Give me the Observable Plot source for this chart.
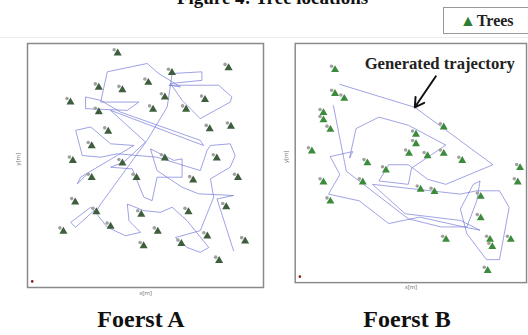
<!DOCTYPE html>
<html><head><meta charset="utf-8">
<script src="https://cdn.jsdelivr.net/npm/d3@7"></script>
<script src="https://cdn.jsdelivr.net/npm/@observablehq/plot@0.6"></script>
<style>
html,body{margin:0;padding:0;background:#fff;}
#page{position:relative;width:528px;height:335px;overflow:hidden;background:#fff;font-family:"Liberation Serif","DejaVu Serif",serif;}
.abs{position:absolute;}
#title{left:0;width:545px;top:-13px;text-align:center;font-weight:bold;font-size:19px;color:#111;}
#legend{left:443px;top:7px;width:100px;height:27px;border:1px solid #999;box-sizing:border-box;font-weight:bold;font-size:16px;line-height:25px;padding-left:16px;color:#222;}
#legend span{color:#2e7d32;font-size:16px;margin-right:1px;}
.cap{top:306px;width:200px;text-align:center;font-weight:bold;font-size:24px;color:#111;}
#sep{left:0;top:37px;width:528px;height:1px;background:#ececec;}
</style></head>
<body><div id="page">
<div id="sep" class="abs"></div>
<div id="title" class="abs">Figure 4: Tree locations</div>
<div id="legend" class="abs"><span>▲</span>Trees</div>
<div id="pA" class="abs" style="left:13px;top:42px;"></div>
<div id="pB" class="abs" style="left:281px;top:42px;"></div>
<div class="abs cap" style="left:41px;">Foerst A</div>
<div class="abs cap" style="left:307px;">Foerst B</div>
</div>
<script>
// Tree positions [x m, y m]
const treesA = [[38,96],[85,90],[61,88],[30,82],[51,84],[40,81],[58,78],[18,76],[75,77],[53,73],[30,72],[67,73],
  [34,64],[77,65],[86,66],[27,58],[58,53],[19,52],[40,51],[80,53],[27,45],[46,45],[70,44],[89,45],[20,35],[29,31],
  [84,33],[48,30],[68,31],[35,25],[15,23],[55,23],[76,21],[92,19],[49,17],[65,18],[81,11]];
const treesB = [[17,89],[17,79],[21,77],[12,71],[12,68],[15,64],[7,55],[64,65],[52,62],[52,58],[49,54],[57,53],
  [64,54],[72,51],[31,50],[39,47],[29,42],[12,42],[54,39],[60,38],[15,34],[80,36],[80,27],[65,18],[84,18],[85,15],
  [93,18],[97,48],[96,42],[83,5]];
// Generated trajectory vertices [x m, y m]
const trajA = [[87.3,15.1],[80.3,36.3],[87.3,37.7],[72.5,38.4],[65.5,41.1],[54.9,47.9],[52.1,56.8],[62.0,52.1],[65.5,52.7],
  [65.5,45.2],[54.9,45.2],[52.8,35.6],[49.3,37.0],[44.4,48.6],[35.2,49.3],[40.8,51.4],[50.0,59.6],[35.2,72.6],[74.6,58.2],
  [73.2,60.3],[39.4,71.9],[31.0,76.7],[24.6,78.1],[24.6,73.3],[42.3,72.6],[47.2,76.0],[31.0,76.0],[33.8,88.4],[50.7,91.8],
  [55.6,87.7],[64.8,82.2],[59.9,82.9],[81.0,82.9],[86.6,78.1],[85.9,76.0],[73.2,69.2],[65.5,76.7],[60.6,83.6],[73.9,84.9],
  [73.9,88.4],[61.3,87.7],[59.2,74.0],[50.7,60.3],[31.0,34.2],[28.9,30.8],[26.8,32.9],[18.3,26.7],[20.4,24.7],[28.2,31.5],
  [33.8,24.7],[41.5,21.2],[47.9,22.6],[43.0,27.4],[42.3,34.2],[49.3,31.5],[56.3,30.8],[61.3,32.9],[67.6,27.4],[76.8,16.4],
  [73.2,14.4],[67.6,16.4],[62.7,20.5],[73.2,23.3],[78.9,37.0],[77.5,44.5],[85.9,49.3],[88.0,54.1],[85.9,58.9],[77.5,58.2],
  [76.1,56.2],[73.2,47.9],[54.9,53.4],[38.0,54.8],[31.0,53.4],[23.2,54.1],[20.4,64.4],[26.8,65.8],[35.2,58.9],[45.1,58.2],
  [22.5,45.2],[21.1,42.5],[25.4,46.6]];
const trajB = [[19.3,82.9],[51.7,73.3],[85.5,49.3],[65.1,41.1],[57.3,43.2],[48.9,49.3],[40.4,49.3],[36.2,42.5],[48.9,41.1],
  [50.3,47.9],[65.1,57.5],[48.9,65.8],[36.2,69.2],[26.3,64.4],[23.5,52.1],[24.9,54.8],[15.1,52.7],[19.3,45.2],[14.4,37.0],
  [27.7,34.2],[40.4,24.7],[53.8,27.4],[72.8,23.3],[79.9,21.9],[71.4,26.0],[47.5,28.8],[33.4,41.1],[71.4,37.0],[78.5,38.4],
  [88.3,38.4],[92.5,31.5],[88.3,9.6],[82.7,9.6],[74.2,20.5],[71.4,30.8],[77.0,41.1],[79.9,42.5],[78.5,34.2],[74.2,23.3],
  [63.0,23.3],[48.9,26.7],[22.1,46.6],[19.3,60.3],[16.5,74.0]];
const origin = [[2,2.5]];
const annotation = {text: "Generated trajectory", x: 62.5, y: 91.5, from: [60.8, 86.3], to: [51.7, 73.3]};

function panel(trees, traj, treeFill, extra) {
  return Plot.plot({
    width: 252, height: 262,
    marginLeft: 14, marginRight: 2, marginTop: 1, marginBottom: 17,
    x: {domain: [0, 100], axis: null},
    y: {domain: [0, 100], axis: null},
    style: {background: "transparent", overflow: "visible"},
    marks: [
      Plot.line(traj, {x: d => d[0], y: d => d[1], stroke: "#6f74d6", strokeOpacity: 0.75, strokeWidth: 0.9}),
      Plot.dot(trees, {x: d => d[0], y: d => d[1], dx: -3, dy: -3.5, r: 1.8, fill: "#a0a0a0", stroke: "none"}),
      Plot.dot(trees, {x: d => d[0], y: d => d[1], dx: 0.5, symbol: "triangle", r: 3, fill: treeFill, stroke: "none"}),
      Plot.dot(origin, {x: d => d[0], y: d => d[1], r: 1.3, fill: "#8b1a1a"}),
      Plot.frame({stroke: "#8a8a8a", strokeWidth: 1.5}),
      Plot.text(["x[m]"], {frameAnchor: "bottom", dy: 7, fontSize: 6, fill: "#777"}),
      Plot.text(["y[m]"], {frameAnchor: "left", dx: -9, rotate: -90, fontSize: 6, fill: "#777"}),
      ...extra
    ]
  });
}

document.getElementById("pA").append(panel(treesA, trajA, "#3e5e3e", []));
document.getElementById("pB").append(panel(treesB, trajB, "#3c8a3c", [
  Plot.text([annotation], {x: "x", y: "y", text: "text", fontSize: 17, fontWeight: "bold", fontFamily: "Liberation Serif, serif", fill: "#222"}),
  Plot.arrow([annotation], {x1: d => d.from[0], y1: d => d.from[1], x2: d => d.to[0], y2: d => d.to[1], stroke: "#111", strokeWidth: 2, headLength: 8})
]));
</script>
</body></html>
